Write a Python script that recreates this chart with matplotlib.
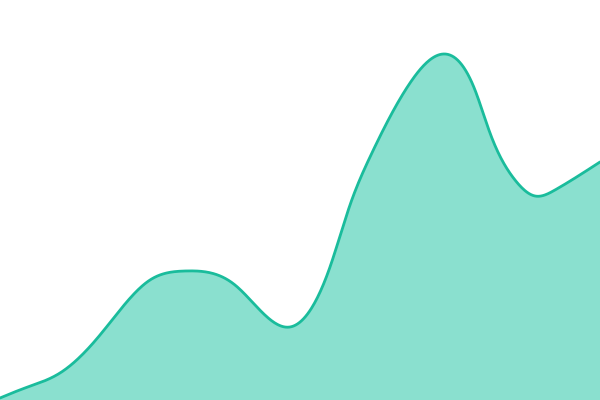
import numpy as np
import matplotlib
matplotlib.use("Agg")
import matplotlib.pyplot as plt

# points (x position, value)
xs = [0, 25, 60, 100, 150, 185, 235, 290, 330, 350, 370, 410, 445,
      475, 490, 515, 535, 555, 600]
values = [2, 12, 27, 65, 120, 129, 115, 73, 133, 195, 243, 317, 346,
          310, 267, 220, 204, 210, 238]

line_color = "#1abc9c"
fill_color = "#8ae0cf"


def natural_spline(x, y, n=600):
    x = np.asarray(x, float)
    y = np.asarray(y, float)
    k = len(x)
    h = np.diff(x)
    A = np.zeros((k, k))
    b = np.zeros(k)
    A[0, 0] = A[-1, -1] = 1
    for i in range(1, k - 1):
        A[i, i - 1] = h[i - 1]
        A[i, i] = 2 * (h[i - 1] + h[i])
        A[i, i + 1] = h[i]
        b[i] = 6 * ((y[i + 1] - y[i]) / h[i] - (y[i] - y[i - 1]) / h[i - 1])
    m = np.linalg.solve(A, b)
    px = np.linspace(x[0], x[-1], n)
    idx = np.clip(np.searchsorted(x, px) - 1, 0, k - 2)
    x0, x1 = x[idx], x[idx + 1]
    hh = x1 - x0
    a = (x1 - px) / hh
    c = (px - x0) / hh
    py = (a * y[idx] + c * y[idx + 1]
          + ((a**3 - a) * m[idx] + (c**3 - c) * m[idx + 1]) * hh**2 / 6)
    return px, py


cx, cy = natural_spline(xs, values)

fig = plt.figure(figsize=(6, 4), dpi=100)
ax = fig.add_axes([0, 0, 1, 1])
ax.fill_between(cx, cy, 0, color=fill_color, linewidth=0)
ax.plot(cx, cy, color=line_color, linewidth=2.0, solid_capstyle="round")
ax.set_xlim(0, 600)
ax.set_ylim(0, 400)
ax.axis("off")
fig.savefig("out.png", dpi=100)
